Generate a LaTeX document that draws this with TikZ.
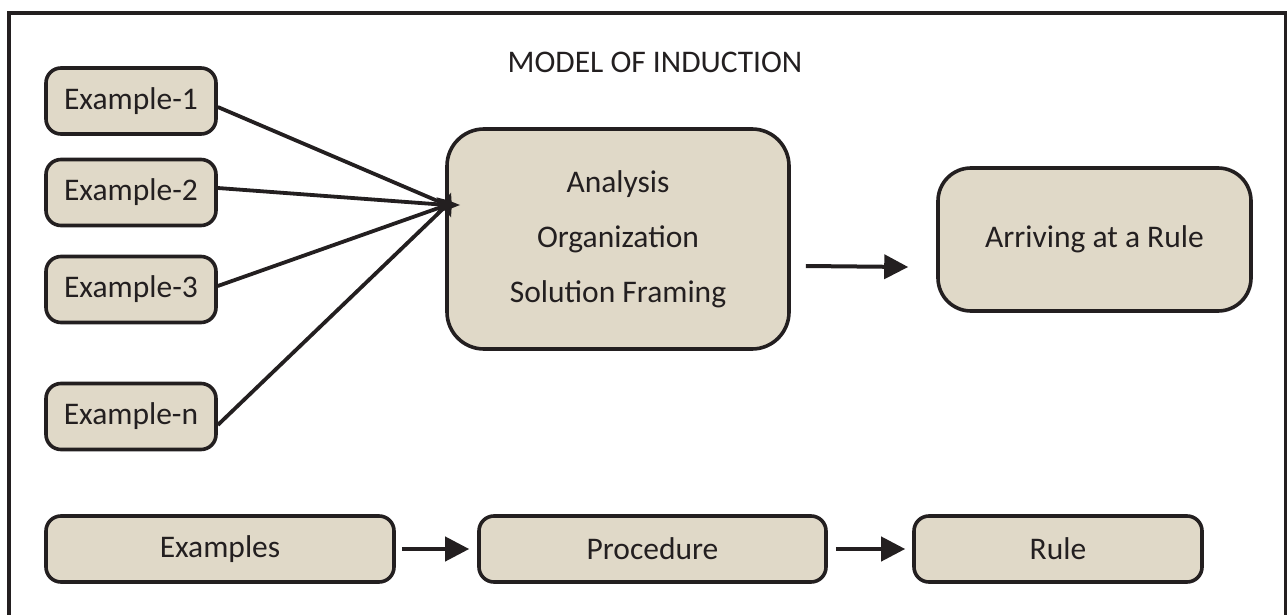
\documentclass[tikz,border=0pt]{standalone}
\usepackage{fontspec}
\setmainfont{Carlito}
\usetikzlibrary{arrows.meta,shapes.geometric}
\definecolor{boxfill}{RGB}{224,217,200}
\definecolor{ink}{RGB}{35,31,32}
\tikzset{
  box/.style={draw=ink, fill=boxfill, line width=3.6pt, rounded corners=15pt,
    text=ink, inner sep=0pt, font=\fontsize{31.5}{38}\selectfont},
  conn/.style={draw=ink, line width=3.8pt},
  arr/.style={draw=ink, line width=4pt, -{Triangle[length=24pt,width=24pt]}},
  startip/.style={star, star points=5, star point ratio=2.3, fill=ink, inner sep=0pt,
    minimum size=26pt, shape border rotate=-90},
}
\begin{document}
\begin{tikzpicture}[x=1pt,y=-1pt]
\useasboundingbox (0,0) rectangle (1287,615);
\draw[ink, line width=4pt] (9,13) rectangle (1286,650);
\node[text=ink, font=\fontsize{31.5}{38}\selectfont] (title) at (655,62) {MODEL OF INDUCTION};
\node[box, minimum width=170pt, minimum height=66pt] (ex1) at (131,101) {Example-1};
\node[box, minimum width=170pt, minimum height=66pt] (ex2) at (131,192.5) {Example-2};
\node[box, minimum width=170pt, minimum height=66pt] (ex3) at (131,289.5) {Example-3};
\node[box, minimum width=170pt, minimum height=66pt] (exn) at (131,416.5) {Example-n};
\node[box, rounded corners=37pt, minimum width=342pt, minimum height=220pt, align=center,
  font=\fontsize{31.5}{55}\selectfont] (cb) at (618,239) {Analysis\\Organization\\Solution Framing};
\node[box, rounded corners=33pt, minimum width=313pt, minimum height=143pt] (ar) at (1094.5,239.5) {Arriving at a Rule};
\node[box, minimum width=348pt, minimum height=66pt] (exs) at (220,549) {Examples};
\node[box, minimum width=347pt, minimum height=66pt] (proc) at (652.5,549) {Procedure};
\node[box, minimum width=288pt, minimum height=66pt] (rule) at (1058,549) {Rule};
\coordinate (hub) at (447,205);
\draw[conn] ([yshift=-6pt]ex1.east) -- (hub);
\draw[conn] ([yshift=4.5pt]ex2.east) -- (hub);
\draw[conn] ([yshift=3.5pt]ex3.east) -- (hub);
\draw[conn] ([yshift=-8.5pt]exn.east) -- (hub);
\node[startip] (st) at (hub) {};
\draw[arr] ([xshift=15pt,yshift=-27pt]cb.east) -- ([xshift=-28pt,yshift=-27.5pt]ar.west);
\draw[arr] ([xshift=6pt]exs.east) -- ([xshift=-8pt]proc.west);
\draw[arr] ([xshift=8pt]proc.east) -- ([xshift=-7pt]rule.west);
\end{tikzpicture}
\end{document}
